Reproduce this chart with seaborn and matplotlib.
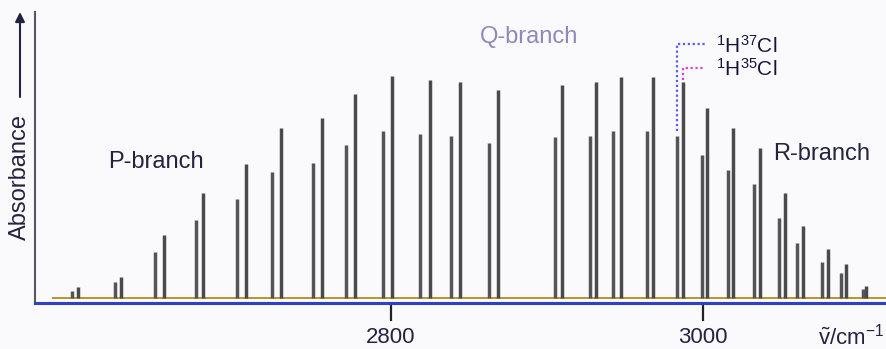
import numpy as np
import pandas as pd
import matplotlib
matplotlib.use("Agg")
import matplotlib.pyplot as plt
import seaborn as sns

# Rotation-vibration lines of HCl (fundamental band), wavenumbers in cm^-1
h35_p_nu = [2599.4, 2626.9, 2654.5, 2679.5, 2707.1, 2729.5, 2755.8, 2776.9, 2800.6, 2825.0, 2844.2, 2868.6]
h35_p_abs = [11, 21, 63, 105, 134, 170, 180, 204, 222, 218, 216, 208]
h37_p_nu = [2595.5, 2623.1, 2648.7, 2675.0, 2701.3, 2723.7, 2750.0, 2771.2, 2794.9, 2818.6, 2838.5, 2862.8]
h37_p_abs = [7, 16, 46, 78, 99, 126, 135, 153, 167, 164, 162, 155]

h35_r_nu = [2909.6, 2931.4, 2947.4, 2967.9, 2987.2, 3002.6, 3019.2, 3036.5, 3052.6, 3064.1, 3080.1, 3091.7, 3104.5]
h35_r_abs = [213, 216, 221, 221, 216, 190, 170, 150, 105, 72, 49, 34, 12]
h37_r_nu = [2905.1, 2927.6, 2942.3, 2964.1, 2983.3, 2999.4, 3016.0, 3032.7, 3048.7, 3060.3, 3076.3, 3088.5, 3102.6]
h37_r_abs = [161, 162, 167, 167, 162, 143, 128, 114, 80, 55, 36, 25, 9]

x_ticks = [2800, 3000]
isotopes = ["H35Cl", "H37Cl"]

# long table: each line is a vertical stick from 0 to its absorbance
rows = []
uid = 0
for iso, nus, absb in [("H35Cl", h35_p_nu + h35_r_nu, h35_p_abs + h35_r_abs),
                       ("H37Cl", h37_p_nu + h37_r_nu, h37_p_abs + h37_r_abs)]:
    for n, a in zip(nus, absb):
        rows.append({"nu": n, "absorbance": 0.0, "isotope": iso, "line": uid})
        rows.append({"nu": n, "absorbance": a, "isotope": iso, "line": uid})
        uid += 1
df = pd.DataFrame(rows)

sns.set_theme(style="white")
plt.rcParams["font.family"] = ["Liberation Sans", "DejaVu Sans"]
plt.rcParams["mathtext.fontset"] = "custom"
plt.rcParams["mathtext.rm"] = "Liberation Sans"
plt.rcParams["mathtext.it"] = "Liberation Sans:italic"
plt.rcParams["mathtext.bf"] = "Liberation Sans:bold"

bg = "#faf9fc"
ink = "#23233f"
fig = plt.figure(figsize=(8.86, 3.49), dpi=100, facecolor=bg)
ax = fig.add_axes([35 / 886, 46 / 349, 851 / 886, 291 / 349])
ax.set_facecolor(bg)

# baseline of the spectrum
ax.plot([2582.7, 3117.3], [0, 0], color="#b8962a", lw=1.4, zorder=1)

sns.lineplot(data=df, x="nu", y="absorbance", hue="isotope", units="line",
             estimator=None, sort=False, palette={"H35Cl": "#4a4a4a", "H37Cl": "#555555"},
             linewidth=2.5, legend=False, ax=ax, zorder=3)
for ln in ax.get_lines():
    ln.set_solid_capstyle("butt")

ax.set_xlim(2571.8, 3117.3)
ax.set_ylim(-5, 286)
ax.set_xticks(x_ticks)
ax.set_xticklabels([str(t) for t in x_ticks], fontsize=16, color=ink)
ax.set_yticks([])
ax.tick_params(axis="x", direction="out", length=13, width=1.6, color="#222222", pad=4,
               bottom=True)
ax.set_xlabel("")
ax.set_ylabel("")

for s in ["top", "right"]:
    ax.spines[s].set_visible(False)
ax.spines["bottom"].set_color("#2f3fc8")
ax.spines["bottom"].set_linewidth(2.2)
ax.spines["left"].set_color("#555566")
ax.spines["left"].set_linewidth(1.5)

# branch labels
ax.text(2649.4, 136, "P-branch", fontsize=17, color=ink, ha="center", va="center")
ax.text(2888.5, 261, "Q-branch", fontsize=17, color="#8e88bc", ha="center", va="center")
ax.text(3044.9, 144, "R-branch", fontsize=17, color=ink, ha="left", va="center")

# isotope guides: dotted lead from the R(4) lines to their labels
i37 = h37_r_nu.index(2983.3)
i35 = h35_r_nu.index(2987.2)
ax.plot([h37_r_nu[i37], h37_r_nu[i37], 3002.6], [h37_r_abs[i37] + 5, 254, 254],
        ls=(0, (1, 1.2)), color="#5a5af0", lw=1.6, zorder=4)
ax.plot([h35_r_nu[i35], h35_r_nu[i35], 3001.3], [h35_r_abs[i35] + 2, 230, 230],
        ls=(0, (1, 1.2)), color="#e040c8", lw=1.6, zorder=4)
ax.text(3008.5, 252, r"$^{1}$H$^{37}$Cl", fontsize=15, color="#15153a", ha="left", va="center")
ax.text(3008.5, 229, r"$^{1}$H$^{35}$Cl", fontsize=15, color="#15153a", ha="left", va="center")

# axis titles
fig.text(818 / 886, 1 - 337 / 349, r"$\tilde{\mathrm{v}}$/cm$^{-1}$", fontsize=16,
         color=ink, ha="left", va="center")
fig.text(20 / 886, 1 - 177 / 349, "Absorbance", fontsize=17, color=ink,
         rotation=90, ha="center", va="center")
ax.annotate("", xy=(20, 349 - 12), xytext=(20, 349 - 97),
            xycoords="figure pixels", textcoords="figure pixels",
            arrowprops=dict(arrowstyle="-|>", color=ink, lw=1.5,
                            mutation_scale=14, shrinkA=0, shrinkB=0))

fig.savefig("out.png", dpi=100, facecolor=bg)
